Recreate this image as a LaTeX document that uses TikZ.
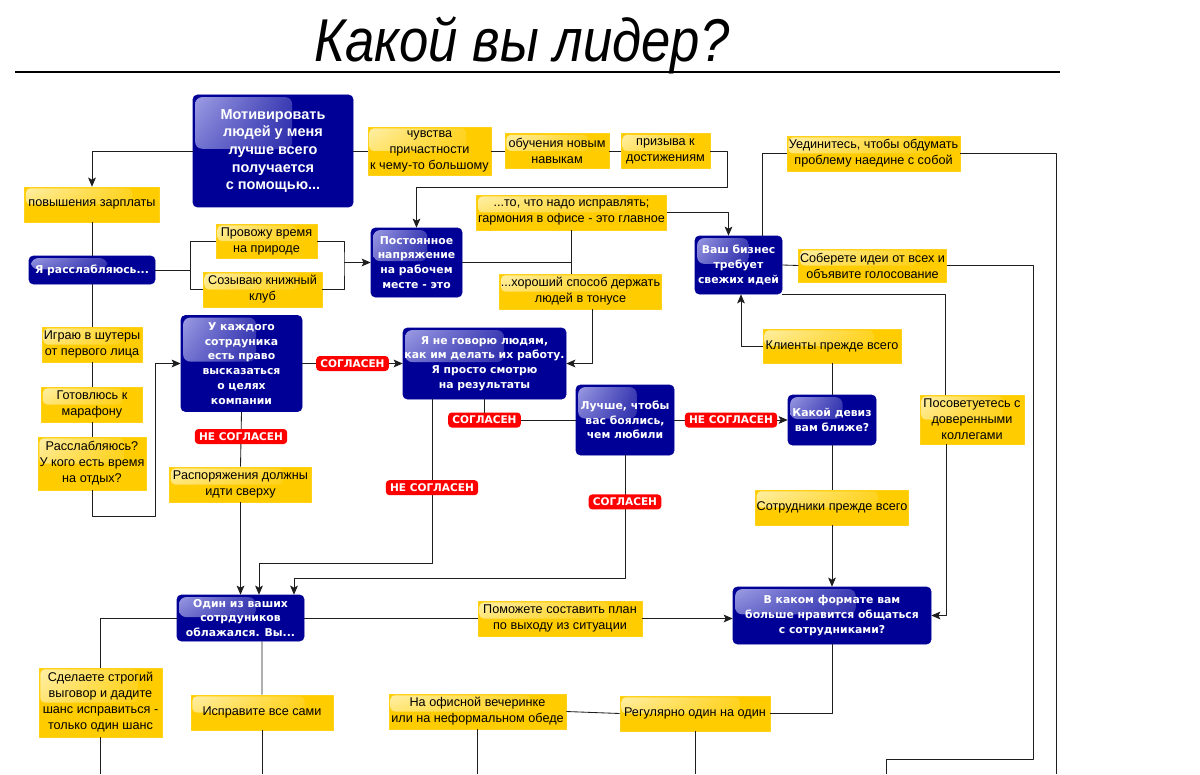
\documentclass[tikz,border=0pt]{standalone}
\usepackage{fontspec}
\usepackage{graphicx}
\setmainfont{Liberation Sans}
\newfontfamily\vfont{DejaVu Sans}
\usetikzlibrary{arrows.meta,calc,shadings}
\definecolor{navyb}{RGB}{0,0,150}
\definecolor{glossb}{RGB}{160,160,230}
\definecolor{goldy}{RGB}{255,204,0}
\definecolor{glossy}{RGB}{255,240,170}
\definecolor{redlab}{RGB}{255,0,0}
\definecolor{linec}{RGB}{30,30,30}
\tikzset{
  wh/.style 2 args={minimum width=#1*0.025cm, minimum height=#2*0.025cm},
  bbox/.style={draw=navyb, fill=navyb, rounded corners=3pt, text=white, align=center, inner sep=1pt,
    font=\vfont\bfseries\fontsize{7.7}{10.5}\selectfont,
    path picture={\shade[upper left=glossb, lower left=glossb!45!navyb, upper right=navyb, lower right=navyb, rounded corners=5pt]
      let \p1=(path picture bounding box.north west), \p2=(path picture bounding box.south east) in
      (\x1+1.5pt,\y1-1.5pt) rectangle ({\x1+0.62*(\x2-\x1)},{\y1+0.48*(\y2-\y1)});}},
  ybox/.style={draw=goldy!90!white, fill=goldy, align=center, inner sep=1pt,
    font=\fontsize{9}{11.4}\selectfont,
    path picture={\shade[upper left=glossy, lower left=glossy!40!goldy, upper right=goldy, lower right=goldy, rounded corners=3pt]
      let \p1=(path picture bounding box.north west), \p2=(path picture bounding box.south east) in
      (\x1+1pt,\y1-1pt) rectangle ({\x1+0.8*(\x2-\x1)},{\y1+0.5*(\y2-\y1)});}},
  rlab/.style={fill=redlab, rounded corners=2.5pt, text=white, inner xsep=3pt, inner ysep=1.5pt, minimum height=15*0.025cm,
    font=\vfont\bfseries\fontsize{7.5}{8}\selectfont},
  >={Stealth[length=6.5pt,width=5.5pt,inset=1.5pt]},
}
\begin{document}
\begin{tikzpicture}[x=0.025cm,y=-0.025cm,line join=round]
  \useasboundingbox (0,0) rectangle (1200,774);
  \fill[white] (0,0) rectangle (1200,774);
  \coordinate (bot) at (0,774);
  % title
  \node[anchor=base, inner sep=0pt] (title) at (522,62)
    {\scalebox{0.87}[1]{\fontsize{43}{43}\selectfont\itshape Какой вы лидер?}};
  \draw[line width=1.1pt] (15,72) -- (1060,72);
  % blue questions
  \node[bbox, wh={160}{112}, font=\rmfamily\bfseries\fontsize{10.3}{12.6}\selectfont] (motiv) at (273,151)
    {Мотивировать\\людей у меня\\лучше всего\\получается\\с помощью...};
  \node[bbox, wh={126}{28}] (relax) at (92,270) {Я расслабляюсь...};
  \node[bbox, wh={91}{69}] (tension) at (416.5,262.5) {Постоянное\\напряжение\\на рабочем\\месте - это};
  \node[bbox, wh={87}{58}] (biz) at (738.5,265) {Ваш бизнес\\требует\\свежих идей};
  \node[bbox, wh={121}{96}] (prav) at (241.5,363.5) {У каждого\\сотрдуника\\есть право\\высказаться\\о целях\\компании};
  \node[bbox, wh={163}{71}] (nosay) at (484.5,363.5) {Я не говорю людям,\\как им делать их работу.\\Я просто смотрю\\на результаты};
  \node[bbox, wh={98}{70}] (fear) at (625,420) {Лучше, чтобы\\вас боялись,\\чем любили};
  \node[bbox, wh={88}{50}] (deviz) at (832,420) {Какой девиз\\вам ближе?};
  \node[bbox, wh={127}{46}] (fail) at (240.5,618) {Один из ваших\\сотрдуников\\облажался. Вы...};
  \node[bbox, wh={198}{57}] (format) at (832,615.5) {В каком формате вам\\больше нравится общаться\\с сотрудниками?};
  % yellow answers
  \node[ybox, wh={135}{35}] (zp) at (92,204.5) {повышения зарплаты};
  \node[ybox, wh={123}{48}] (prich) at (429.5,151) {чувства\\причастности\\к чему-то большому};
  \node[ybox, wh={104}{35}] (obuch) at (557,151) {обучения новым\\навыкам};
  \node[ybox, wh={89}{35}] (prizyv) at (665.5,151) {призыва к\\достижениям};
  \node[ybox, wh={101}{34}] (priroda) at (266.5,241) {Провожу время\\на природе};
  \node[ybox, wh={119}{35}] (klub) at (262.5,289.5) {Созываю книжный\\клуб};
  \node[ybox, wh={185}{35}] (ispr) at (571.5,212.5) {...то, что надо исправлять;\\гармония в офисе - это главное};
  \node[ybox, wh={161}{35}] (tonus) at (580.5,291.5) {...хороший способ держать\\людей в тонусе};
  \node[ybox, wh={173}{35}] (uedin) at (873.5,153.5) {Уединитесь, чтобы обдумать\\проблему наедине с собой};
  \node[ybox, wh={147}{33}] (golos) at (872.5,265.5) {Соберете идеи от всех и\\объявите голосование};
  \node[ybox, wh={138}{34}] (klient) at (832,346) {Клиенты прежде всего};
  \node[ybox, wh={100}{35}] (shuter) at (92,344.5) {Играю в шутеры\\от первого лица};
  \node[ybox, wh={101}{35}] (marafon) at (92,404.5) {Готовлюсь к\\марафону};
  \node[ybox, wh={108}{53}] (otdyh) at (92,463.5) {Расслабляюсь?\\У кого есть время\\на отдых?};
  \node[ybox, wh={142}{35}] (rasp) at (240.5,484.5) {Распоряжения должны\\идти сверху};
  \node[ybox, wh={104}{49}] (sovet) at (972,419.5) {Посоветуетесь с\\доверенными\\коллегами};
  \node[ybox, wh={153}{35}] (sotr) at (832,507.5) {Сотрудники прежде всего};
  \node[ybox, wh={164}{35}] (plan) at (560,618.5) {Поможете составить план\\по выходу из ситуации};
  \node[ybox, wh={123}{69}] (vygovor) at (100.5,702.5) {Сделаете строгий\\выговор и дадите\\шанс исправиться -\\только один шанс};
  \node[ybox, wh={142}{35}] (sami) at (262,712.5) {Исправите все сами};
  \node[ybox, wh={177}{35}] (vech) at (477.5,711.5) {На офисной вечеринке\\или на неформальном обеде};
  \node[ybox, wh={150}{35}] (reg) at (695,713.5) {Регулярно один на один};
  % connectors
  \begin{scope}[draw=linec, line width=0.6pt]
    \draw[->] (motiv.west) -| (zp.north);
    \draw (motiv.east) -- (prich.west);
    \draw (prich.east) -- (obuch.west);
    \draw (obuch.east) -- (prizyv.west);
    \coordinate (k1) at (727,187);
    \draw[->] (prizyv.east) -| (k1) -| (tension.north);
    \draw (zp.south) -- (relax.north);
    \draw (relax.south) -- (shuter.north);
    \draw (shuter.south) -- (marafon.north);
    \draw (marafon.south) -- (otdyh.north);
    \coordinate (k2) at (155,516);
    \draw[->] (otdyh.south) |- (k2) |- (prav.west);
    \coordinate (k3) at (190,270);
    \draw (relax.east) -- (k3) |- (priroda.west);
    \draw (k3) |- (klub.west);
    \coordinate (k4) at (344,262.5);
    \draw (priroda.east) -| (k4) |- (klub.east);
    \draw[->] (k4) -- (tension.west);
    \draw (tension.east) -- (tension.east -| ispr.south);
    \draw (ispr.south) -- (ispr.south |- tonus.north);
    \draw[->] (ispr.east) -| ($(biz.north)+(-10,0)$);
    \draw[->] ($(tonus.south)+(12,0)$) |- (nosay.east);
    \draw ($(biz.north)+(23.5,0)$) |- (uedin.west);
    \coordinate (e1) at (1056,774);
    \draw (uedin.east) -| (e1);
    \draw (biz.east) -- (golos.west);
    \coordinate (k5) at (1033,759);
    \coordinate (e2) at (886,774);
    \draw (golos.east) -| (k5) -| (e2);
    \draw (biz.south east) -| ($(sovet.north)+(-27,0)$);
    \draw[->] ($(sovet.south)+(-26,0)$) |- (format.east);
    \draw[->] (klient.west) -| ($(biz.south)+(2.5,0)$);
    \draw (klient.south) -- (deviz.north);
    \draw (deviz.south) -- (sotr.north);
    \draw[->] (sotr.south) -- (format.north);
    % agree / disagree
    \draw[->] (prav.east) -- (nosay.west) node[rlab, midway] (s1) {СОГЛАСЕН};
    \draw (prav.south) -- (rasp.north) node[rlab, pos=0.45] (n1) {НЕ СОГЛАСЕН};
    \draw[->] (rasp.south) -- (fail.north);
    \draw (nosay.south) |- (fear.west) node[rlab, pos=0.5] (s2) {СОГЛАСЕН};
    \draw[->] (fear.east) -- (deviz.west) node[rlab, midway] (n2) {НЕ СОГЛАСЕН};
    \coordinate (k6) at (432,563);
    \draw[->] ($(nosay.south)+(-52.5,0)$) -- node[rlab, pos=0.54] (n3) {НЕ СОГЛАСЕН} (k6) -| ($(fail.north)+(18.5,0)$);
    \coordinate (k7) at (625,578);
    \draw[->] (fear.south) -- node[rlab, pos=0.38] (s3) {СОГЛАСЕН} (k7) -| ($(fail.north)+(53.5,0)$);
    % last question
    \draw (fail.west) -| (vygovor.north);
    \draw (vygovor.south) -- (vygovor.south |- bot);
    \draw ($(fail.south)+(21.5,0)$) -- (sami.north);
    \draw (sami.south) -- (sami.south |- bot);
    \draw (fail.east) -- (fail.east -| plan.west);
    \draw[->] (plan.east) -- (plan.east -| format.west);
    \draw (format.south) |- (reg.east);
    \draw (reg.west) -- (vech.east);
    \draw (reg.south) -- (reg.south |- bot);
    \draw (vech.south) -- (vech.south |- bot);
  \end{scope}
\end{tikzpicture}
\end{document}
